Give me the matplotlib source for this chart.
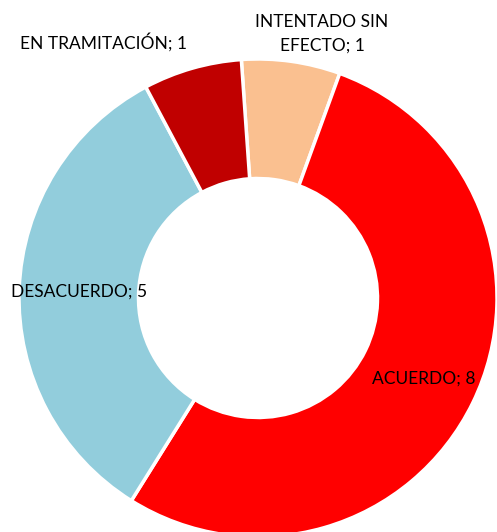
import matplotlib
matplotlib.use('Agg')
import matplotlib.pyplot as plt

labels = ['INTENTADO SIN\nEFECTO', 'ACUERDO', 'DESACUERDO', 'EN TRAMITACIÓN']
values = [1, 8, 5, 1]
colors = ['#FAC090', '#FF0000', '#92CDDC', '#C00000']

plt.rcParams['font.family'] = ['Lato', 'DejaVu Sans']

fig = plt.figure(figsize=(4.97, 5.32), dpi=100)
ax = fig.add_axes([0, 0, 1, 1])

ax.pie(values, colors=colors, startangle=94, counterclock=False,
       radius=1.0, wedgeprops=dict(width=0.5, edgecolor='white', linewidth=2.5))

# center at (258, 298) px, radius 239 px
ax.set_xlim(-258 / 239, (497 - 258) / 239)
ax.set_ylim(-(532 - 298) / 239, 298 / 239)
ax.set_aspect('auto')
ax.axis('off')

txt = [f'{l}; {v}' for l, v in zip(labels, values)]
fs = 12.5
fig.text(0.648, 0.936, txt[0], ha='center', va='center', fontsize=fs, linespacing=1.55)
fig.text(0.748, 0.289, txt[1], ha='left', va='center', fontsize=fs)
fig.text(0.022, 0.451, txt[2], ha='left', va='center', fontsize=fs)
fig.text(0.040, 0.921, txt[3], ha='left', va='center', fontsize=fs)

fig.savefig('out.png', dpi=100)
